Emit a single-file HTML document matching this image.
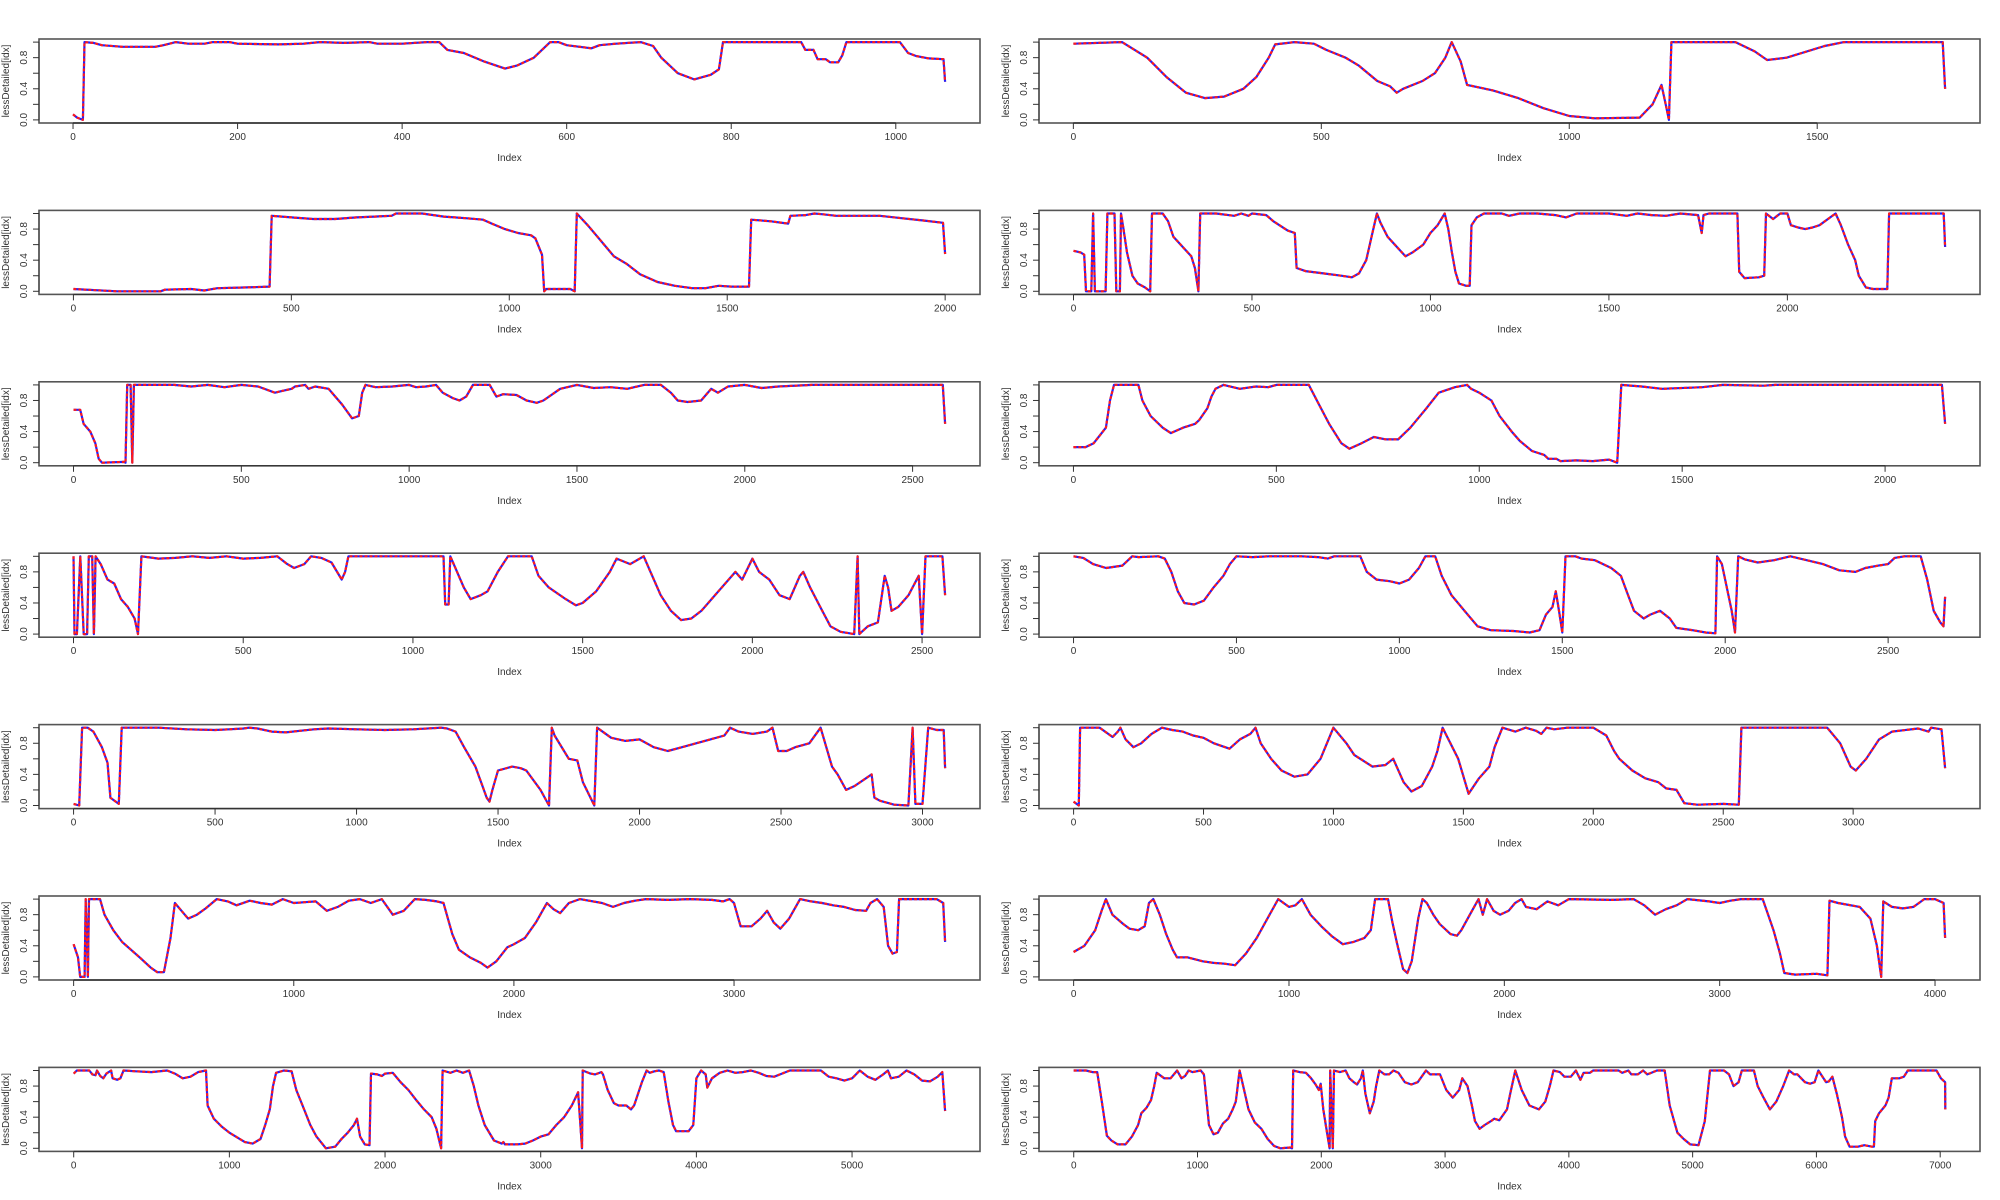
<!DOCTYPE html>
<html><head><meta charset="utf-8"><style>
html,body{margin:0;padding:0;background:#fff;}
svg{display:block;font-family:"Liberation Sans",sans-serif;}
</style></head><body>
<svg id="chart" width="2000" height="1200" viewBox="0 0 2000 1200" xmlns="http://www.w3.org/2000/svg"></svg>
<script>
const panelN=[1060,1758,2000,2442,2597,2148,2568,2675,3080,3354,3959,4047,5598,7040];
const panelTickStep=[200,500,500,500,500,500,500,500,500,500,1000,1000,1000,1000];
const yTicks=[0,0.2,0.4,0.6,0.8,1.0];
const yTickLabels=["0.0","","0.4","","0.8",""];
const s1=[[0,.07],[5,.03],[12,0],[14,1],[25,.99],[35,.96],[60,.94],[100,.94],[110,.96],[125,1],[140,.98],[160,.98],[170,1],[190,1],[200,.98],[250,.97],[280,.98],[300,1],[330,.99],[360,1],[370,.98],[400,.98],[430,1],[445,1],[455,.9],[475,.86],[500,.75],[525,.66],[540,.7],[560,.8],[580,1],[590,1],[600,.96],[630,.92],[640,.96],[660,.98],[690,1],[705,.95],[715,.8],[735,.6],[755,.52],[775,.58],[785,.65],[790,1],[885,1],[890,.9],[900,.9],[905,.78],[915,.78],[920,.74],[930,.74],[935,.83],[940,1],[1005,1],[1015,.86],[1025,.82],[1040,.79],[1058,.78],[1060,.49]];
const s2=[[0,.98],[98,1],[149,.8],[188,.55],[227,.35],[265,.28],[304,.3],[343,.4],[369,.55],[394,.8],[407,.97],[446,1],[485,.98],[510,.9],[549,.8],[575,.7],[613,.5],[639,.43],[652,.35],[665,.4],[704,.5],[729,.6],[750,.8],[763,1],[781,.75],[794,.45],[845,.38],[897,.28],[948,.15],[1000,.05],[1052,.02],[1142,.03],[1168,.2],[1186,.45],[1196,.15],[1201,0],[1206,1],[1335,1],[1374,.88],[1399,.77],[1438,.8],[1515,.95],[1554,1],[1753,1],[1758,.4]];
const s3=[[0,.03],[100,0],[200,0],[210,.02],[270,.03],[300,.01],[330,.04],[400,.05],[450,.06],[455,.97],[500,.95],[550,.93],[600,.93],[650,.95],[690,.96],[730,.97],[740,1],[800,1],[850,.96],[900,.94],[940,.92],[960,.87],[990,.8],[1020,.75],[1050,.72],[1060,.68],[1075,.47],[1080,0],[1085,.03],[1140,.03],[1150,0],[1155,1],[1180,.85],[1210,.65],[1240,.45],[1270,.35],[1300,.22],[1340,.12],[1380,.07],[1420,.04],[1450,.04],[1480,.07],[1510,.06],[1550,.06],[1555,.92],[1600,.9],[1640,.87],[1645,.97],[1680,.98],[1700,1],[1720,.99],[1750,.97],[1850,.97],[1900,.94],[1950,.91],[1995,.88],[2000,.48]];
const s4=[[0,.52],[20,.5],[30,.47],[35,0],[50,0],[55,1],[60,0],[90,0],[95,1],[115,1],[120,0],[130,0],[133,1],[140,.8],[150,.5],[165,.2],[180,.1],[200,.05],[215,0],[220,1],[250,1],[265,.9],[280,.7],[300,.6],[330,.45],[340,.3],[350,0],[355,1],[400,1],[450,.97],[470,1],[490,.97],[500,1],[540,.98],[560,.9],[600,.78],[620,.75],[625,.3],[650,.26],[700,.23],[750,.2],[780,.18],[800,.23],[820,.4],[840,.8],[850,1],[860,.88],[880,.7],[910,.55],[930,.45],[950,.5],[980,.6],[1000,.75],[1020,.85],[1040,1],[1050,.8],[1060,.5],[1070,.25],[1080,.1],[1100,.07],[1110,.07],[1115,.85],[1130,.95],[1150,1],[1200,1],[1220,.97],[1250,1],[1300,1],[1350,.98],[1380,.95],[1410,1],[1500,1],[1550,.97],[1580,1],[1620,.98],[1660,.97],[1700,1],[1750,.98],[1760,.75],[1765,.98],[1780,1],[1860,1],[1865,.25],[1880,.17],[1920,.18],[1935,.2],[1940,1],[1960,.93],[1980,1],[2000,1],[2010,.85],[2030,.82],[2050,.8],[2070,.82],[2090,.85],[2120,.95],[2135,1],[2150,.85],[2170,.6],[2190,.4],[2200,.2],[2220,.05],[2240,.03],[2280,.03],[2285,1],[2438,1],[2442,.57]];
const s5=[[0,.68],[20,.68],[30,.5],[50,.4],[65,.25],[75,.05],[85,0],[150,.01],[155,0],[160,1],[170,1],[175,0],[180,1],[300,1],[350,.98],[400,1],[450,.97],[500,1],[550,.98],[600,.9],[620,.92],[650,.95],[660,.98],[690,1],[700,.95],[720,.98],[760,.95],[780,.85],[800,.75],[830,.57],[850,.6],[860,.9],[870,1],[900,.97],[950,.98],[1000,1],[1020,.97],[1050,.98],[1080,1],[1100,.9],[1130,.83],[1150,.8],[1170,.85],[1190,1],[1240,1],[1260,.85],[1280,.88],[1320,.87],[1350,.8],[1380,.77],[1400,.8],[1450,.95],[1500,1],[1550,.96],[1600,.97],[1650,.95],[1700,1],[1750,1],[1780,.9],[1800,.8],[1830,.78],[1870,.8],[1900,.95],[1920,.9],[1950,.98],[2000,1],[2050,.96],[2100,.98],[2200,1],[2590,1],[2597,.5]];
const s6=[[0,.2],[30,.2],[50,.25],[80,.45],[90,.8],[100,1],[160,1],[170,.8],[190,.6],[220,.45],[240,.38],[270,.45],[300,.5],[310,.55],[330,.7],[340,.85],[350,.95],[370,1],[410,.95],[450,.98],[480,.97],[500,1],[580,1],[600,.8],[630,.5],[660,.25],[680,.18],[710,.25],[740,.33],[770,.3],[800,.3],[830,.45],[870,.7],[900,.9],[940,.97],[970,1],[980,.95],[1000,.9],[1030,.8],[1050,.6],[1080,.4],[1100,.28],[1130,.15],[1160,.1],[1170,.05],[1190,.05],[1200,.02],[1240,.03],[1280,.02],[1320,.04],[1340,0],[1350,1],[1400,.98],[1450,.95],[1550,.97],[1600,1],[1700,.99],[1730,1],[2140,1],[2148,.5]];
const s7=[[0,1],[3,0],[10,0],[20,1],[30,0],[40,0],[45,1],[55,1],[60,0],[65,1],[80,.9],[100,.7],[120,.65],[140,.45],[160,.35],[180,.2],[190,0],[200,1],[250,.97],[300,.98],[350,1],[400,.98],[450,1],[500,.97],[550,.98],[600,1],[630,.9],[650,.85],[680,.9],[700,1],[730,.98],[760,.92],[790,.7],[800,.8],[810,1],[1090,1],[1095,.38],[1105,.38],[1110,1],[1130,.8],[1150,.6],[1170,.45],[1200,.5],[1220,.55],[1250,.8],[1280,1],[1350,1],[1370,.75],[1400,.6],[1450,.45],[1480,.37],[1500,.4],[1540,.55],[1580,.8],[1600,.97],[1640,.9],[1680,1],[1700,.8],[1730,.5],[1760,.3],[1790,.18],[1820,.2],[1850,.3],[1900,.55],[1950,.8],[1970,.7],[2000,.97],[2020,.8],[2050,.7],[2080,.5],[2110,.45],[2140,.75],[2150,.8],[2170,.6],[2200,.35],[2230,.1],[2260,.03],[2300,0],[2310,1],[2315,0],[2340,.1],[2370,.15],[2390,.75],[2400,.6],[2410,.3],[2430,.35],[2460,.5],[2490,.75],[2500,0],[2510,1],[2560,1],[2568,.5]];
const s8=[[0,1],[30,.98],[60,.9],[100,.85],[150,.88],[180,1],[200,.99],[260,1],[280,.97],[300,.8],[320,.55],[340,.4],[370,.38],[400,.43],[430,.6],[460,.75],[480,.9],[500,1],[550,.99],[600,1],[700,1],[750,.99],[780,.97],[800,1],[880,1],[900,.8],[930,.7],[970,.68],[1000,.65],[1030,.7],[1060,.85],[1080,1],[1110,1],[1130,.75],[1160,.5],[1200,.3],[1240,.1],[1280,.05],[1350,.04],[1400,.02],[1430,.05],[1450,.25],[1470,.35],[1480,.55],[1490,.3],[1500,.02],[1510,1],[1540,1],[1560,.97],[1600,.95],[1650,.85],[1680,.75],[1700,.52],[1720,.3],[1750,.2],[1770,.25],[1800,.3],[1830,.2],[1850,.08],[1900,.05],[1940,.02],[1970,.01],[1975,1],[1990,.9],[2020,.3],[2030,.02],[2040,1],[2060,.96],[2100,.92],[2150,.95],[2200,1],[2300,.9],[2350,.82],[2400,.8],[2430,.85],[2470,.88],[2500,.9],[2520,.98],[2550,1],[2600,1],[2620,.7],[2640,.3],[2660,.15],[2670,.1],[2675,.48]];
const s9=[[0,.02],[20,0],[30,1],[50,1],[70,.95],[100,.75],[120,.55],[130,.1],[160,.02],[170,1],[300,1],[400,.98],[500,.97],[550,.98],[600,.99],[620,1],[650,.99],[700,.95],[750,.94],[800,.96],[850,.98],[900,.99],[1000,.98],[1100,.97],[1200,.98],[1300,1],[1320,.99],[1350,.95],[1380,.75],[1420,.5],[1440,.3],[1460,.1],[1470,.05],[1480,.2],[1500,.45],[1550,.5],[1580,.48],[1600,.45],[1650,.2],[1680,0],[1690,1],[1700,.9],[1750,.6],[1780,.58],[1800,.3],[1840,0],[1850,1],[1900,.87],[1950,.83],[2000,.85],[2050,.75],[2100,.7],[2150,.75],[2200,.8],[2250,.85],[2300,.9],[2320,1],[2350,.95],[2400,.92],[2450,.95],[2470,1],[2490,.7],[2520,.7],[2550,.75],[2600,.8],[2640,1],[2680,.5],[2700,.4],[2730,.2],[2760,.25],[2800,.35],[2820,.4],[2830,.1],[2850,.06],[2900,.01],[2950,0],[2965,1],[2975,.02],[3000,.02],[3020,1],[3050,.97],[3075,.97],[3080,.48]];
const s10=[[0,.05],[20,0],[25,1],[100,1],[150,.88],[170,.95],[180,1],[200,.85],[230,.75],[260,.8],[300,.92],[340,1],[380,.97],[420,.95],[460,.9],[500,.87],[540,.8],[600,.73],[640,.85],[680,.92],[700,1],[720,.8],[760,.6],[800,.45],[850,.37],[900,.4],[950,.6],[1000,1],[1050,.8],[1080,.65],[1150,.5],[1200,.52],[1230,.6],[1270,.3],[1300,.18],[1340,.25],[1380,.5],[1400,.7],[1420,1],[1450,.8],[1480,.6],[1520,.15],[1560,.35],[1600,.5],[1620,.75],[1650,1],[1700,.95],[1740,1],[1780,.96],[1800,.92],[1820,1],[1850,.98],[1900,1],[2000,1],[2050,.9],[2080,.7],[2100,.6],[2150,.45],[2200,.35],[2250,.3],[2280,.22],[2320,.2],[2350,.03],[2400,.01],[2500,.02],[2560,.01],[2570,1],[2900,1],[2950,.8],[2990,.5],[3010,.45],[3050,.6],[3100,.85],[3150,.95],[3250,.99],[3290,.95],[3300,1],[3340,.98],[3354,.48]];
const s11=[[0,.42],[20,.25],[30,0],[50,0],[55,1],[65,0],[70,1],[120,1],[140,.8],[180,.6],[220,.45],[260,.35],[300,.25],[350,.12],[380,.06],[410,.06],[440,.5],[460,.95],[490,.85],[520,.75],[560,.8],[600,.88],[650,1],[700,.97],[740,.92],[800,.98],[850,.95],[900,.93],[950,1],[1000,.95],[1050,.96],[1100,.97],[1150,.85],[1200,.9],[1250,.98],[1300,1],[1350,.95],[1400,1],[1450,.8],[1500,.85],[1550,1],[1600,.99],[1650,.97],[1680,.95],[1700,.75],[1720,.55],[1750,.35],[1800,.25],[1850,.18],[1880,.12],[1920,.2],[1970,.38],[2000,.42],[2050,.5],[2100,.7],[2150,.95],[2180,.87],[2210,.82],[2250,.95],[2300,1],[2400,.95],[2450,.9],[2500,.95],[2550,.98],[2600,1],[2700,.99],[2800,1],[2900,.99],[2950,.97],[2980,1],[3000,.95],[3030,.65],[3080,.65],[3120,.75],[3150,.85],[3180,.7],[3210,.62],[3250,.75],[3300,1],[3350,.97],[3400,.95],[3450,.92],[3500,.9],[3550,.86],[3600,.85],[3620,.95],[3650,1],[3680,.9],[3700,.4],[3720,.3],[3740,.32],[3750,1],[3920,1],[3950,.95],[3959,.45]];
const s12=[[0,.32],[50,.4],[100,.6],[130,.85],[150,1],[180,.8],[230,.68],[260,.62],[300,.6],[330,.65],[350,.95],[370,1],[400,.8],[430,.55],[460,.35],[480,.25],[530,.25],[600,.2],[650,.18],[700,.17],[750,.15],[800,.3],[850,.5],[900,.75],[930,.9],[950,1],[1000,.9],[1030,.92],[1060,1],[1100,.8],[1150,.65],[1200,.52],[1250,.42],[1300,.45],[1350,.5],[1380,.6],[1400,1],[1460,1],[1480,.7],[1500,.45],[1530,.1],[1550,.05],[1570,.2],[1600,.75],[1620,1],[1640,.95],[1670,.8],[1700,.68],[1750,.55],[1780,.53],[1800,.6],[1850,.85],[1880,1],[1900,.8],[1920,1],[1950,.85],[1980,.8],[2020,.85],[2050,.95],[2080,1],[2100,.9],[2150,.87],[2200,.97],[2250,.92],[2300,1],[2500,.99],[2600,1],[2650,.92],[2700,.8],[2750,.87],[2800,.92],[2850,1],[2950,.97],[3000,.95],[3050,.98],[3100,1],[3200,1],[3250,.6],[3280,.3],[3300,.05],[3350,.03],[3450,.04],[3500,.02],[3510,.98],[3550,.95],[3650,.9],[3700,.75],[3730,.4],[3750,0],[3760,.97],[3800,.9],[3850,.88],[3900,.9],[3950,1],[4000,1],[4040,.95],[4047,.5]];
const s13=[[0,.96],[20,1],[100,1],[120,.95],[140,.94],[150,1],[170,.93],[190,.9],[210,.96],[240,1],[250,.9],[280,.88],[300,.9],[320,1],[400,.99],[500,.98],[600,1],[650,.96],[700,.9],[750,.92],[800,.98],[850,1],[860,.55],[900,.38],[950,.28],[1000,.2],[1050,.14],[1100,.08],[1150,.06],[1200,.12],[1230,.3],[1260,.5],[1280,.8],[1300,.97],[1350,1],[1400,.99],[1430,.75],[1480,.5],[1520,.3],[1560,.15],[1620,0],[1680,.02],[1720,.12],[1760,.2],[1800,.3],[1820,.38],[1840,.15],[1870,.05],[1900,.04],[1910,.96],[1950,.95],[1980,.93],[2000,.96],[2050,.97],[2100,.85],[2150,.75],[2200,.62],[2250,.5],[2300,.4],[2330,.25],[2360,0],[2370,1],[2420,.97],[2460,1],[2500,.97],[2540,1],[2570,.8],[2600,.55],[2640,.3],[2700,.1],[2750,.06],[2760,.08],[2770,.05],[2850,.05],[2900,.06],[2950,.1],[3000,.15],[3050,.18],[3100,.3],[3150,.4],[3200,.55],[3240,.72],[3255,.3],[3265,0],[3270,1],[3320,.96],[3350,.95],[3390,.98],[3400,.95],[3430,.75],[3470,.58],[3500,.55],[3550,.55],[3580,.5],[3600,.55],[3650,.85],[3680,1],[3700,.97],[3730,.99],[3760,1],[3790,.98],[3820,.6],[3850,.3],[3870,.22],[3950,.22],[3980,.3],[4000,.9],[4030,1],[4060,.95],[4070,.78],[4100,.9],[4150,.97],[4200,1],[4250,.97],[4300,.98],[4350,1],[4400,.97],[4450,.93],[4500,.92],[4550,.96],[4600,1],[4800,1],[4850,.92],[4900,.9],[4950,.87],[5000,.9],[5050,1],[5100,.92],[5150,.88],[5200,.95],[5230,1],[5250,.9],[5300,.92],[5350,1],[5400,.95],[5450,.87],[5500,.86],[5550,.92],[5580,.98],[5598,.48]];
const s14=[[0,1],[100,1],[150,.98],[190,.98],[227,.6],[268,.16],[304,.1],[355,.05],[418,.05],[470,.15],[520,.3],[546,.45],[588,.52],[624,.62],[650,.8],[670,.97],[732,.9],[783,.9],[835,1],[871,.9],[900,.93],[928,1],[960,.98],[1026,1],[1052,.95],[1093,.3],[1129,.18],[1165,.2],[1206,.32],[1248,.38],[1284,.5],[1309,.6],[1340,1],[1376,.75],[1412,.5],[1464,.33],[1516,.25],[1567,.12],[1619,.03],[1670,0],[1748,.01],[1763,0],[1773,1],[1825,.98],[1876,.97],[1918,.9],[1954,.82],[1980,.75],[1995,.83],[2016,.5],[2041,.25],[2067,0],[2072,1],[2093,0],[2103,1],[2150,.98],[2196,1],[2227,.9],[2263,.85],[2289,.82],[2320,.9],[2335,1],[2356,.7],[2392,.45],[2423,.6],[2443,.8],[2469,1],[2511,.95],[2547,.95],[2583,1],[2624,.97],[2675,.85],[2727,.82],[2779,.85],[2846,1],[2880,.95],[2959,.95],[3010,.75],[3062,.65],[3114,.75],[3139,.9],[3181,.8],[3217,.55],[3242,.35],[3279,.25],[3320,.3],[3371,.35],[3397,.38],[3438,.36],[3500,.5],[3526,.7],[3567,1],[3619,.75],[3681,.55],[3758,.5],[3810,.6],[3846,.8],[3876,1],[3928,.98],[3964,.92],[4016,.92],[4057,1],[4093,.88],[4119,.97],[4170,.97],[4196,1],[4402,1],[4430,.97],[4480,1],[4505,.95],[4557,.95],[4600,1],[4634,.95],[4712,1],[4774,1],[4815,.55],[4877,.2],[4928,.12],[4980,.05],[5047,.04],[5098,.35],[5140,1],[5253,1],[5294,.95],[5330,.8],[5371,.85],[5397,1],[5495,1],[5526,.8],[5573,.65],[5624,.5],[5676,.6],[5732,.8],[5779,1],[5820,.95],[5846,.95],[5908,.85],[5949,.83],[5985,.85],[6016,1],[6078,.85],[6100,.86],[6129,.92],[6165,.7],[6207,.4],[6232,.15],[6268,.02],[6335,.02],[6387,.04],[6450,.02],[6464,.02],[6475,.35],[6506,.45],[6557,.55],[6583,.65],[6609,.9],[6670,.9],[6707,.92],[6738,1],[6970,1],[7006,.9],[7040,.85],[7041,.5]];
const allSeries=[s1,s2,s3,s4,s5,s6,s7,s8,s9,s10,s11,s12,s13,s14];

const NS="http://www.w3.org/2000/svg";
const svg=document.getElementById('chart');
function mk(tag,attrs,parent){const e=document.createElementNS(NS,tag);for(const k in attrs)e.setAttribute(k,attrs[k]);(parent||svg).appendChild(e);return e;}
const colLeft=[39,1039], boxW=941, boxH=84, rowTop0=39, rowPitch=171.4;

for(let p=0;p<14;p++){
  const col=p%2, row=Math.floor(p/2);
  const L=colLeft[col], T=rowTop0+row*rowPitch, B=T+boxH, R=L+boxW;
  const n=panelN[p];
  const g=mk('g',{});
  
  
  const xr0=1-0.04*(n-1), xr1=n+0.04*(n-1);
  const xs=v=>L+(v-xr0)/(xr1-xr0)*boxW;
  const ys=v=>B-(v+0.04)/1.08*boxH;
  // series
  const d=allSeries[p].map((pt,i)=>(i?'L':'M')+xs(pt[0]).toFixed(1)+' '+ys(pt[1]).toFixed(1)).join(' ');
  const l1=mk('path',{d:d,fill:'none',stroke:'#2020ff','stroke-width':2.2,'stroke-linejoin':'round'},g);
  
  
  const l2=mk('path',{d:d,fill:'none',stroke:'#ff1a1a','stroke-width':2.2,'stroke-dasharray':'3,2','stroke-linejoin':'round'},g);
  
  
  // box
  const bx=mk('rect',{x:L,y:T,width:boxW,height:boxH,fill:'none',stroke:'#555','stroke-width':1.6},g);
  
  
  // y axis
  mk('line',{x1:L,x2:L,y1:ys(0),y2:ys(1),stroke:'#333','stroke-width':1},g);
  yTicks.forEach((t,i)=>{
    mk('line',{x1:L-6,x2:L,y1:ys(t),y2:ys(t),stroke:'#333','stroke-width':1},g);
    if(yTickLabels[i]){
      const tx=mk('text',{x:0,y:0,'font-size':10,fill:'#333','text-anchor':'middle',transform:`translate(${L-12},${ys(t)}) rotate(-90)`},g);
      tx.textContent=yTickLabels[i];
      
      
    }
  });
  const yl=mk('text',{x:0,y:0,'font-size':10,fill:'#333','text-anchor':'middle',transform:`translate(${L-30},${(T+B)/2}) rotate(-90)`},g);
  yl.textContent='lessDetailed[idx]';
  
  
  // x axis
  const step=panelTickStep[p];
  const last=Math.floor(n/step)*step;
  mk('line',{x1:xs(0),x2:xs(last),y1:B,y2:B,stroke:'#333','stroke-width':1.4},g);
  for(let t=0;t<=last;t+=step){
    mk('line',{x1:xs(t),x2:xs(t),y1:B,y2:B+6,stroke:'#333','stroke-width':1},g);
    const tx=mk('text',{x:xs(t),y:B+17,'font-size':10,fill:'#333','text-anchor':'middle'},g);
    tx.textContent=String(t);
    
    
  }
  const xl=mk('text',{x:(L+R)/2,y:B+38,'font-size':10,fill:'#333','text-anchor':'middle'},g);
  xl.textContent='Index';
  
  
}
</script>
</body></html>
